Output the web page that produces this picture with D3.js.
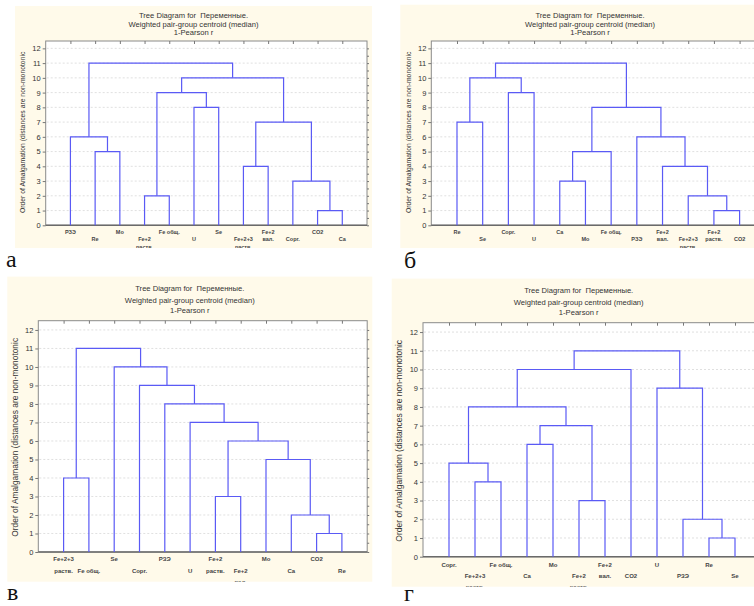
<html>
<head>
<meta charset="utf-8">
<style>
    body {
        margin: 0;
        background-color: white;
    }
    text {
        font-family: "Liberation Sans", Arial, sans-serif;
        fill: #333;
    }
    .link {
        fill: none;
        stroke: #5a5af5;
        stroke-width: 1.2;
    }
    .grid {
        stroke: #d2d2d2;
        stroke-dasharray: 2,2;
        stroke-width: 0.7;
    }
    .frame {
        fill: white;
        stroke: #8a8a8a;
        stroke-width: 1;
    }
    .axis path { display: none; }
    .axis line { stroke: #777; }
    .leaf-label { font-weight: bold; fill: #444; }
    .letter { font-family: "Liberation Serif", "DejaVu Serif", serif; fill: #111; }
</style>
</head>
<body>
<script src="https://cdnjs.cloudflare.com/ajax/libs/d3/7.8.5/d3.min.js"></script>
<script>
    (function() {

        var titleLines = ["Tree Diagram for \u00a0Переменные.", "Weighted pair-group centroid (median)", "1-Pearson r"];
        var yTitle = "Order of Amalgamation (distances are non-monotonic";
        var yTicks = [0, 1, 2, 3, 4, 5, 6, 7, 8, 9, 10, 11, 12];

        // leaves, left to right; "\n" = second line of the label
        var leavesA = ["РЗЭ", "Re", "Mo", "Fe+2\nраств.", "Fe общ.", "U", "Se", "Fe+2+3\nраств.", "Fe+2\nвал.", "Сорг.", "CO2", "Ca"];
        var leavesB = ["Re", "Se", "Сорг.", "U", "Ca", "Mo", "Fe общ.", "РЗЭ", "Fe+2\nвал.", "Fe+2+3\nраств.", "Fe+2\nраств.", "CO2"];
        var leavesV = ["Fe+2+3\nраств.", "Fe общ.", "Se", "Сорг.", "РЗЭ", "U", "Fe+2\nраств.", "Fe+2\nвал.", "Mo", "Ca", "CO2", "Re"];
        var leavesG = ["Сорг.", "Fe+2+3\nраств.", "Fe общ.", "Ca", "Mo", "Fe+2\nраств.", "Fe+2\nвал.", "CO2", "U", "РЗЭ", "Re", "Se"];

        // merge steps: -i = leaf i, +k = cluster made at step k
        var mergesA = [[-11, -12], [-4, -5], [-10, 1], [-8, -9], [-2, -3], [-1, 5], [4, 3], [-6, -7], [2, 8], [9, 7], [6, 10]];
        var mergesB = [[-11, -12], [-10, 1], [-5, -6], [-9, 2], [3, -7], [-8, 4], [-1, -2], [5, 6], [-3, -4], [7, 9], [10, 8]];
        var mergesV = [[-11, -12], [-10, 1], [-7, -8], [-1, -2], [-9, 2], [3, 5], [-6, 6], [-5, 7], [-4, 8], [-3, 9], [4, 10]];
        var mergesG = [[-11, -12], [-10, 1], [-6, -7], [-2, -3], [-1, 4], [-4, -5], [6, 3], [5, 7], [-9, 2], [8, -8], [10, 9]];

        // order of amalgamation of each step
        var heightsA = [1, 2, 3, 4, 5, 6, 7, 8, 9, 10, 11];
        var heightsB = [1, 2, 3, 4, 5, 6, 7, 8, 9, 10, 11];
        var heightsV = [1, 2, 3, 4, 5, 6, 7, 8, 9, 10, 11];
        var heightsG = [1, 2, 3, 4, 5, 6, 7, 8, 9, 10, 11];

        var panels = [
            { letter: "а", leaves: leavesA, merges: mergesA, heights: heightsA,
              bg: [15, 6, 357, 242], plot: [45.7, 41, 321.3, 184.3], k: 1,
              row1: 6.4, rowGap: 7.6, leafFont: 5.5, yFont: 6.8, yLabelX: 23, yLabelStart: 213, letterXY: [6, 267] },
            { letter: "б", leaves: leavesB, merges: mergesB, heights: heightsB,
              bg: [400.3, 4.7, 379.4, 243.3], plot: [431.3, 41, 334, 184.3], k: 1,
              row1: 6.4, rowGap: 7.6, leafFont: 5.5, yFont: 6.8, yLabelX: 408.7, yLabelStart: 213, letterXY: [404, 268] },
            { letter: "в", leaves: leavesV, merges: mergesV, heights: heightsV,
              bg: [7.3, 276.6, 365, 305.1], plot: [38.3, 320.7, 328.9, 231.3], k: 1.26,
              row1: 7.3, rowGap: 11.4, leafFont: 6, yFont: 8.4, yLabelX: 15, yLabelStart: 536.7, letterXY: [7, 600] },
            { letter: "г", leaves: leavesG, merges: mergesG, heights: heightsG,
              bg: [391.7, 278.6, 374, 308.1], plot: [423, 322.7, 338, 234], k: 1.26,
              row1: 8.3, rowGap: 10.7, leafFont: 6, yFont: 8.5, yLabelX: 398.7, yLabelStart: 541.7, letterXY: [404, 601] }
        ];

        var svg = d3.select("body")
                .append("svg")
                .attr("width", 754)
                .attr("height", 606)
                .style("display", "block");

        svg.append("rect")
                .attr("width", 754)
                .attr("height", 606)
                .attr("fill", "white");

        var defs = svg.append("defs");

        function drawPanel(p, idx) {
            var g = svg.append("g");
            var px = p.plot[0], py = p.plot[1], pw = p.plot[2], ph = p.plot[3];

            defs.append("clipPath")
                    .attr("id", "bgclip" + idx)
                    .append("rect")
                    .attr("x", p.bg[0]).attr("y", p.bg[1])
                    .attr("width", p.bg[2]).attr("height", p.bg[3]);

            g.append("rect")
                    .attr("x", p.bg[0]).attr("y", p.bg[1])
                    .attr("width", p.bg[2]).attr("height", p.bg[3])
                    .attr("fill", "#fffaea");

            var x = d3.scaleLinear()
                    .domain([0, p.leaves.length + 1])
                    .range([px, px + pw]);
            var y = d3.scaleLinear()
                    .domain([0, 12.5])
                    .range([py + ph, py]);

            g.append("rect")
                    .classed("frame", 1)
                    .attr("x", px).attr("y", py)
                    .attr("width", pw).attr("height", ph);

            g.selectAll(".grid")
                    .data(yTicks.slice(1))
                    .enter()
                    .append("line")
                    .classed("grid", 1)
                    .attr("x1", px + 1).attr("x2", px + pw - 1)
                    .attr("y1", function(d) { return y(d); })
                    .attr("y2", function(d) { return y(d); });

            // left axis with numbers
            var left = g.append("g")
                    .classed("axis", 1)
                    .attr("transform", "translate(" + px + ",0)")
                    .call(d3.axisLeft(y).tickValues(yTicks).tickSize(3).tickPadding(2).tickFormat(d3.format("d")));
            left.selectAll("text")
                    .style("font-size", "7.5px")
                    .style("font-family", "Liberation Sans, Arial, sans-serif")
                    .attr("fill", "#333");

            // right axis, small ticks only
            g.append("g")
                    .classed("axis", 1)
                    .attr("transform", "translate(" + (px + pw) + ",0)")
                    .call(d3.axisRight(y).tickValues(d3.range(0, 12.5, 0.5)).tickSize(2).tickFormat(""));

            // top ticks at leaf positions
            g.append("g")
                    .classed("axis", 1)
                    .attr("transform", "translate(0," + py + ")")
                    .call(d3.axisTop(x).tickValues(d3.range(1, p.leaves.length + 1)).tickSize(-3).tickFormat(""));

            // bottom axis line
            g.append("line")
                    .attr("x1", px).attr("x2", px + pw)
                    .attr("y1", y(0)).attr("y2", y(0))
                    .attr("stroke", "#6a6a6a")
                    .attr("stroke-width", 1.6);

            // tree links
            var nodes = [];
            function nodeOf(k) {
                return k < 0 ? { pos: -k, h: 0 } : nodes[k - 1];
            }
            p.merges.forEach(function(m, i) {
                var a = nodeOf(m[0]), b = nodeOf(m[1]), h = p.heights[i];
                g.append("path")
                        .classed("link", 1)
                        .attr("d", "M" + x(a.pos) + "," + y(a.h) +
                                   "V" + y(h) + "H" + x(b.pos) + "V" + y(b.h));
                nodes.push({ pos: (a.pos + b.pos) / 2, h: h });
            });

            // staggered leaf labels, clipped by the panel background
            var labels = g.append("g").attr("clip-path", "url(#bgclip" + idx + ")");
            p.leaves.forEach(function(name, i) {
                var row = i % 2;
                name.split("\n").forEach(function(part, j) {
                    labels.append("text")
                            .classed("leaf-label", 1)
                            .attr("x", x(i + 1))
                            .attr("y", y(0) + p.row1 + (row + j) * p.rowGap)
                            .attr("dy", "0.35em")
                            .attr("text-anchor", "middle")
                            .style("font-size", p.leafFont + "px")
                            .text(part);
                });
            });

            // titles
            var titleOffsets = [-26, -16.5, -8.3];
            titleLines.forEach(function(t, j) {
                g.append("text")
                        .attr("x", p.bg[0] + p.bg[2] / 2)
                        .attr("y", py + titleOffsets[j] * p.k)
                        .attr("dy", "0.35em")
                        .attr("text-anchor", "middle")
                        .style("font-size", "7.6px")
                        .text(t);
            });

            g.append("text")
                    .attr("transform", "translate(" + p.yLabelX + "," + p.yLabelStart + ") rotate(-90)")
                    .attr("dy", "0.35em")
                    .style("font-size", p.yFont + "px")
                    .text(yTitle);

            svg.append("text")
                    .classed("letter", 1)
                    .attr("x", p.letterXY[0])
                    .attr("y", p.letterXY[1])
                    .style("font-size", "24px")
                    .text(p.letter);
        }

        panels.forEach(drawPanel);

    })();
</script>
</body>
</html>
